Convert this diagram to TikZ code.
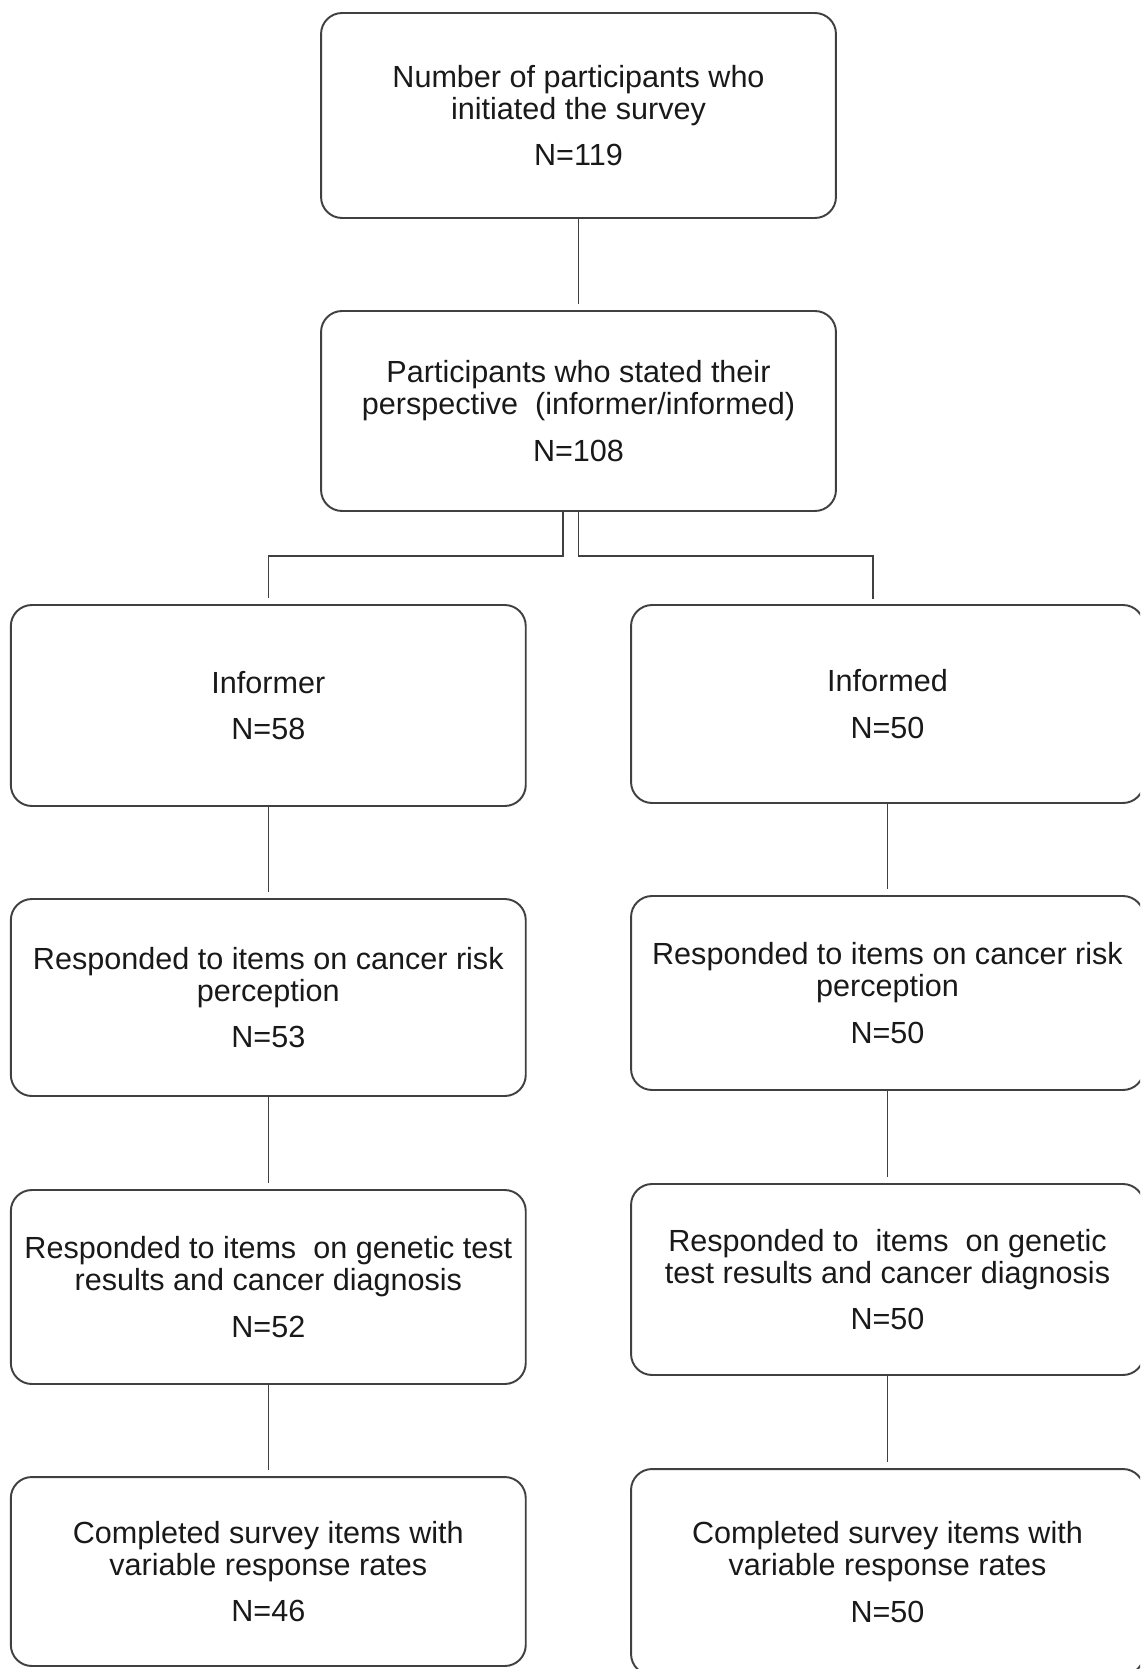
\documentclass[tikz,border=0pt]{standalone}
\usepackage{fontspec}
\setmainfont{Liberation Sans}
\definecolor{boxgray}{HTML}{404040}

\begin{document}
\begin{tikzpicture}[x=0.02cm, y=-0.02cm,
					box/.style={draw=boxgray, line width=1.1pt, rounded corners=0.42cm,
						align=center, inner sep=0pt, text=black!90,
						font=\fontsize{17.4}{18.4}\selectfont},
					link/.style={draw=boxgray, line width=0.8pt, shorten >=0.12cm}]
					\clip (0,0) rectangle (1140,1669);
					% top of the chart
					\node[box, minimum width=10.3cm, minimum height=4.1cm] (initiated) at (578.5,115.5)
						{Number of participants who\\initiated the survey\\[8pt]N=119};
					\node[box, minimum width=10.3cm, minimum height=4.0cm] (stated) at (578.5,411)
						{Participants who stated their\\perspective\ \ (informer/informed)\\[8pt]N=108};
					% informer column
					\begin{scope}[every node/.append style={minimum width=10.3cm}]
					\node[box, minimum height=4.02cm] (informer) at (268.3,705.5) {Informer\\[8pt]N=58};
					\node[box, minimum height=3.94cm] (riskL) at (268.3,997.5)
						{Responded to items on cancer risk\\perception\\[8pt]N=53};
					\node[box, minimum height=3.88cm] (geneticL) at (268.3,1287)
						{Responded to items\ \ on genetic test\\results and cancer diagnosis\\[8pt]N=52};
					\node[box, minimum height=3.78cm] (completeL) at (268.3,1571.5)
						{Completed survey items with\\variable response rates\\[8pt]N=46};
					\end{scope}
					% informed column
					\begin{scope}[every node/.append style={minimum width=10.26cm}]
					\node[box, minimum height=3.96cm] (informed) at (887.5,704) {Informed\\[8pt]N=50};
					\node[box, minimum height=3.88cm] (riskR) at (887.5,993)
						{Responded to items on cancer risk\\perception\\[8pt]N=50};
					\node[box, minimum height=3.82cm] (geneticR) at (887.5,1279.5)
						{Responded to\ \ items\ \ on genetic\\test results and cancer diagnosis\\[8pt]N=50};
					\node[box, minimum height=4.12cm] (completeR) at (887.5,1572)
						{Completed survey items with\\variable response rates\\[8pt]N=50};
					\end{scope}
					\coordinate (splitR) at (873,605);
					\begin{scope}[link]
					\draw (initiated) -- (stated);
					\draw ([xshift=-0.31cm]stated.south) -- ++(0,44) -| (informer.north);
					\draw (stated.south) -- ++(0,44) -| (splitR);
					\draw (informer) -- (riskL);
					\draw (riskL) -- (geneticL);
					\draw (geneticL) -- (completeL);
					\draw (informed) -- (riskR);
					\draw (riskR) -- (geneticR);
					\draw (geneticR) -- (completeR);
					\end{scope}
					\end{tikzpicture}
\end{document}
